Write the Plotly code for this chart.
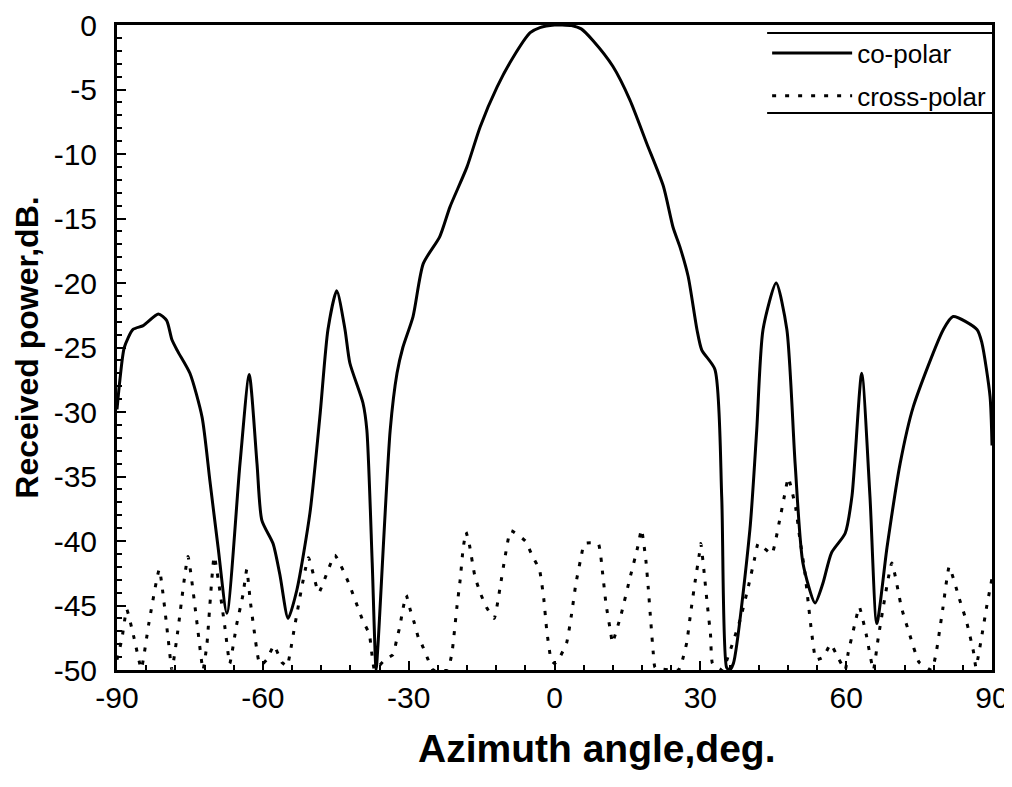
import plotly.graph_objects as go

# co-polar pattern (azimuth deg, dB)
co_x = [-90, -89.4, -88.5, -86.7, -84.6, -81.5, -79.8, -78.7, -77.5, -75, -72.5, -70.9, -69.2, -67.4,
        -64.7, -62.8, -61.2, -60.2, -57.9, -56.5, -54.8, -53, -50.3, -48.2, -46.6, -44.8, -43.1, -42.1,
        -39.4, -38.6, -37.5, -36.7, -36.3, -33.8, -32.4, -31.2, -29.1, -27, -23.6, -21.5, -18, -15.3,
        -11.8, -8.5, -5, -3, 0, 1.5, 3.5, 5.5, 7.9, 12, 15.5, 19, 22.4, 24.4, 25.8, 27.5, 29.3, 30.3, 33, 34.4,
        35.4, 36.0, 36.8, 40.2, 41.6, 42.9, 45.6, 47.8, 49.5, 51.1, 53.6, 55.2, 57, 59.8, 61.2, 63.2,
        64.9, 66.3, 68.4, 71.1, 73.8, 80, 82, 86.9, 87.9, 89.6, 90]
co_y = [-29.8, -27.5, -25, -23.6, -23.3, -22.4, -22.9, -24.4, -25.3, -27, -30.4, -35.3, -40.5, -45.6,
        -34, -27.1, -34, -38.4, -40.2, -42.6, -46, -43.8, -37.8, -30.1, -23.6, -20.6, -23.6, -26.2,
        -29.3, -31.4, -41.7, -50, -48, -31.4, -27, -25, -22.6, -18.5, -16.4, -14.1, -11, -7.9,
        -4.8, -2.5, -0.6, -0.2, 0, 0, -0.05, -0.3, -1.2, -3.2, -5.8, -9.2, -12.5, -15.7, -17.2, -19.5, -23.6, -25.2, -26.7, -36.6,
        -49.8, -50, -49.5, -39.1, -31.4, -23.6, -20, -23.6, -34, -41.7, -44.8, -43.3, -40.9, -39.4, -36.5, -27,
        -36.6, -46.4, -40.5, -34, -29.6, -23.6, -22.6, -23.6, -24.6, -28.8, -32.6]

# cross-polar pattern (azimuth deg, dB)
cx_x = [-90, -89, -88, -86.5, -85, -83.5, -81.3, -79.5, -78.7, -77.5, -75.4, -73.5, -72.3, -71.5,
        -70, -67.8, -66.8, -65.4, -64.1, -63.3, -62.6, -61.8, -60.9, -60.3, -59.2, -57.7, -56.1, -55,
        -54.4, -53.4, -50.6, -48.5, -45.2, -42.4, -39.4, -38.1, -37, -34.9, -33.2, -32.5, -31.8, -31.2,
        -30.5, -29.7, -28.8, -28, -27.3, -26, -25, -22, -21.1, -20.1, -19.4, -18.8, -18.2, -17.5, -16.4,
        -15.3, -13.9, -12.4, -11.2, -10.2, -9, -6, -4.5, -3.1, -2.2, -1.6, -0.7, 0, 1.1, 2.5, 3.5,
        4.4, 5.6, 6.1, 9, 9.9, 10.6, 11.6, 11.9, 13.7, 15.5, 17.1, 17.9, 18.8, 19.3, 19.8, 20.3, 20.7,
        25.5, 26.2, 27.2, 28.0, 28.9, 29.8, 30.1, 30.8, 31.4, 32.1, 32.5, 34.5, 35.4, 38.2, 39.9, 41.2,
        41.9, 44.7, 46.2, 47.3, 48.1, 49.6, 50.5, 51.5, 52.2, 52.9, 53.8, 55.3, 56.8, 58.4, 59.8, 60.4,
        61.8, 62.7, 64.1, 65.6, 66.6, 69.4, 71.4, 73.1, 75.0, 77.6, 78.5, 79.9, 81.2, 83.3, 84.8, 86.2,
        86.7, 88.9, 90]
cx_y = [-49.2, -47.6, -45.3, -47.5, -49.9, -46.5, -42.2, -47.5, -50, -47, -41.2, -46.5, -50, -48,
        -41.2, -46.7, -49.5, -46.5, -44.2, -42.2, -44.6, -46.9, -49.2, -49.6, -49.2, -48.1, -49.4, -49.7,
        -48.7, -46.5, -41.3, -44, -41.1, -43.2, -46.2, -47.2, -50, -49.2, -48.8, -47.7, -46.6, -45.3,
        -44.2, -45.3, -46.4, -47.5, -48, -49.2, -50, -50, -48.7, -45.2, -43, -40.6, -39.3, -40.3, -42.7,
        -44, -45.2, -46, -43.6, -41.3, -39.2, -40, -41.2, -42.2, -44.5, -46.9, -49.2, -49.5, -49, -47.9, -45.7,
        -43.3, -41, -40.2, -40.2, -42.5, -44.9, -47.2, -47.9, -45.7, -42.9, -40.5, -39.1, -41.5, -43.7, -46.2, -48.6, -49.8,
        -50, -49.4, -47.9, -45.6, -43.2, -41, -40.2, -42.5, -44.8, -47.3, -49.5, -50, -49.3, -46.1, -43.5, -41.3,
        -40.2, -41, -38.6, -36.5, -35.1, -37.4, -39.9, -42.4, -44.8, -47.1, -49.2, -49, -48, -49.1, -50, -48.7,
        -46.4, -45.1, -47.2, -50, -47.5, -41.7, -45.2, -47.3, -49.4, -50, -48.7, -45.2, -42, -44.5, -46.3, -48.6,
        -49.8, -45.1, -42.9]

x_tickvals = [-90, -60, -30, 0, 30, 60, 90]
y_tickvals = [0, -5, -10, -15, -20, -25, -30, -35, -40, -45, -50]

FONT = "Arial, Liberation Sans, sans-serif"

fig = go.Figure()
fig.add_trace(go.Scatter(x=co_x, y=co_y, mode="lines", name="co-polar", legendgroup="a",
                         line=dict(color="black", width=3, shape="spline", smoothing=0.65)))
fig.add_trace(go.Scatter(x=cx_x, y=cx_y, mode="lines", name="cross-polar", legendgroup="b",
                         line=dict(color="black", width=3, dash="4px,9px", shape="spline", smoothing=0.4)))

# legend frame: only top and bottom rules, as in the original
for yy in (0.9876, 0.8636):
    fig.add_shape(type="line", xref="paper", yref="paper", x0=0.743, x1=1.0, y0=yy, y1=yy,
                  line=dict(color="black", width=2))

# x-axis title (placed slightly right of centre, as in the original)
fig.add_annotation(text="<b>Azimuth angle,deg.</b>", xref="paper", yref="paper",
                   x=0.549, y=0, xanchor="center", yanchor="middle", yshift=-78,
                   showarrow=False, font=dict(family=FONT, size=39, color="black"))

fig.update_layout(
    width=1004, height=779,
    paper_bgcolor="white", plot_bgcolor="white",
    margin=dict(l=109, r=20, t=17, b=117, autoexpand=False),
    font=dict(family=FONT, size=20, color="black"),
    showlegend=True,
    legend=dict(x=0.743, xanchor="left", y=0.993, yanchor="top",
                bgcolor="rgba(255,255,255,0)", borderwidth=0,
                font=dict(family=FONT, size=26, color="black"),
                itemwidth=80, tracegroupgap=6),
)
fig.update_xaxes(range=[-90, 90], tickvals=x_tickvals, ticktext=[str(v) for v in x_tickvals],
                 showgrid=False, zeroline=False, showline=True, linecolor="black", linewidth=3,
                 mirror=True, ticks="inside", ticklen=9, tickwidth=2, tickcolor="black",
                 minor=dict(dtick=6, tick0=0, ticks="inside", ticklen=5, tickwidth=2, tickcolor="black"),
                 tickfont=dict(family=FONT, size=30), ticklabelstandoff=-1, automargin=False)
fig.update_yaxes(range=[-50, 0], tickvals=y_tickvals, ticktext=[str(v) for v in y_tickvals],
                 showgrid=False, zeroline=False, showline=True, linecolor="black", linewidth=3,
                 mirror=True, ticks="inside", ticklen=9, tickwidth=2, tickcolor="black",
                 minor=dict(dtick=1, tick0=0, ticks="inside", ticklen=5, tickwidth=2, tickcolor="black"),
                 tickfont=dict(family=FONT, size=30), ticklabelstandoff=11, automargin=False,
                 title=dict(text="<b>Received power,dB.</b>", font=dict(family=FONT, size=32), standoff=6))

fig.write_html("out.html")
